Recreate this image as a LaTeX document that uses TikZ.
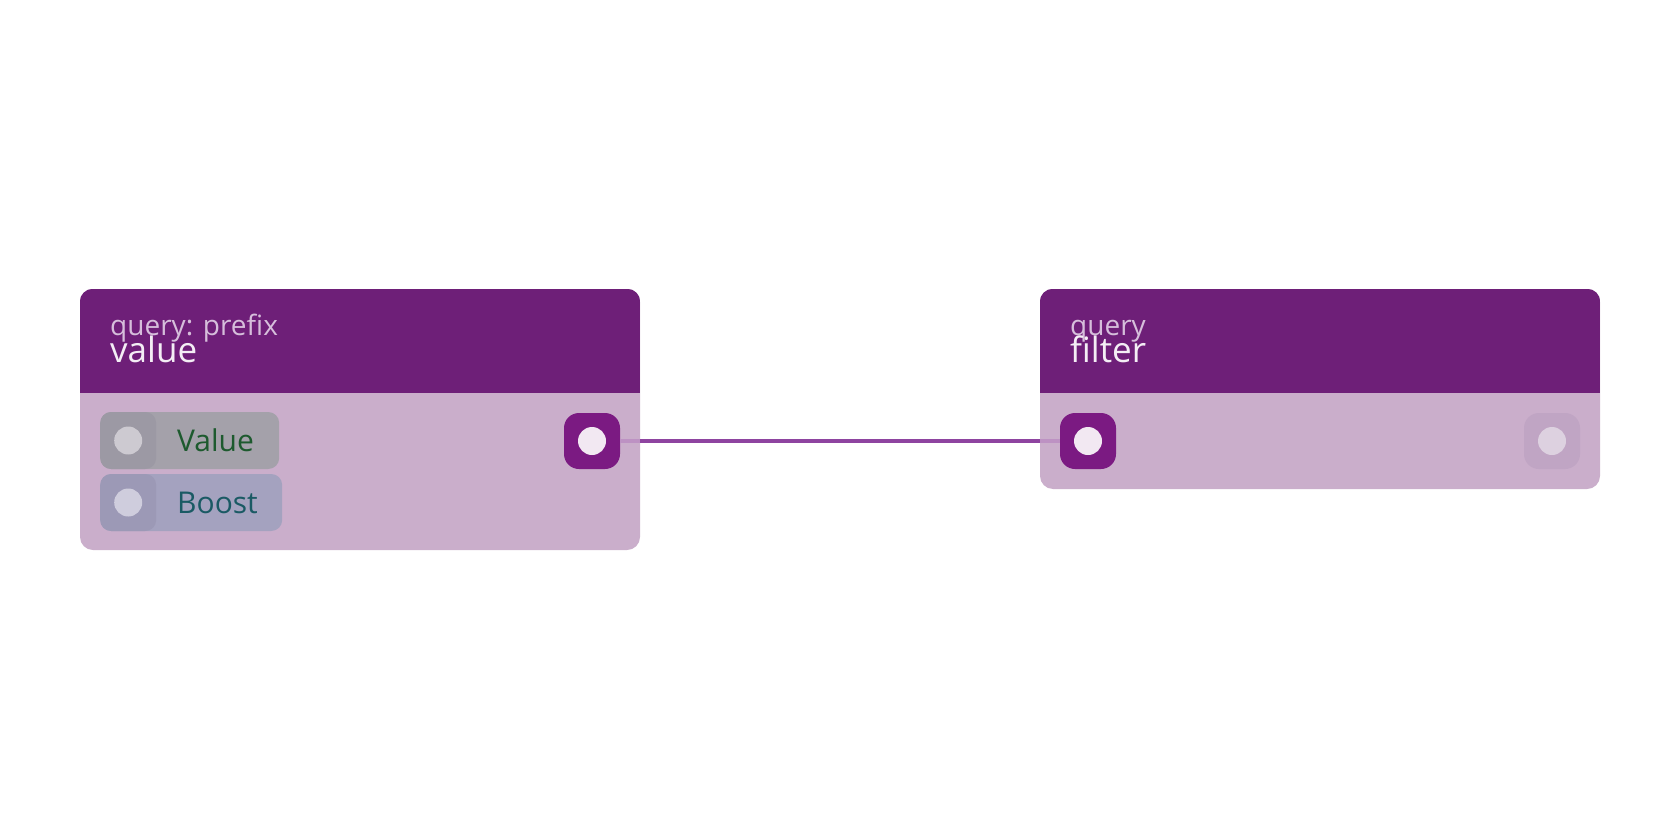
\documentclass[tikz,border=0pt]{standalone}
\usepackage{fontspec}
\setmainfont{Open Sans}
\definecolor{hdr}{HTML}{6E1F78}
\definecolor{bodyc}{HTML}{CAAECB}
\definecolor{portc}{HTML}{7B1A82}
\definecolor{portdot}{HTML}{F2E8F2}
\definecolor{linec}{HTML}{8E44A0}
\definecolor{lineinner}{HTML}{BD92C3}
\definecolor{subc}{HTML}{D6BEDB}
\definecolor{titlec}{HTML}{F4EEF5}
\definecolor{valbox}{HTML}{A4A1AA}
\definecolor{valsq}{HTML}{9C99A4}
\definecolor{valdot}{HTML}{CDCAD1}
\definecolor{valtext}{HTML}{1D5A2E}
\definecolor{boobox}{HTML}{A4A2BF}
\definecolor{boosq}{HTML}{9C99B6}
\definecolor{boodot}{HTML}{CFCDDD}
\definecolor{bootext}{HTML}{1A5A64}
\definecolor{offport}{HTML}{C0A5C4}
\definecolor{offdot}{HTML}{DDD1E0}
\tikzset{
  nodebody/.style={fill=bodyc, rounded corners=13pt, inner sep=0pt, minimum width=560pt},
  portbox/.style={fill=portc, rounded corners=15pt, inner sep=0pt, minimum size=56pt},
  offbox/.style={fill=offport, rounded corners=15pt, inner sep=0pt, minimum size=56pt},
  dot/.style={circle, fill=#1, inner sep=0pt, minimum size=28pt},
  pinbox/.style={rounded corners=11pt, inner sep=0pt, minimum height=57pt, anchor=west},
  pinsq/.style={rounded corners=11pt, inner sep=0pt, minimum width=56pt, minimum height=57pt, anchor=west},
  subtxt/.style={anchor=base west, inner sep=0pt, text=subc, font=\fontsize{28}{32}\selectfont},
  titletxt/.style={anchor=base west, inner sep=0pt, text=titlec, font=\fontsize{35}{40}\selectfont},
  pintxt/.style={anchor=west, inner sep=0pt, font=\fontsize{30}{34}\selectfont},
  conn/.style={draw=linec, line width=3.5pt},
  conninner/.style={draw=lineinner, line width=3.5pt},
}
\begin{document}
\begin{tikzpicture}[x=1pt, y=-1pt]
\useasboundingbox (0,0) rectangle (1680,840);
% left node
\node[nodebody, minimum height=261pt] (lbody) at (360,419.5) {};
\begin{scope}
  \clip[rounded corners=13pt] (lbody.north west) rectangle (lbody.south east);
  \fill[hdr] (lbody.north west) rectangle (640,393);
\end{scope}
\node[subtxt] (lsub) at (110,335) {query: prefix};
\node[titletxt] (ltitle) at (110,362) {value};
% right node
\node[nodebody, minimum height=200pt] (rbody) at (1320,389) {};
\begin{scope}
  \clip[rounded corners=13pt] (rbody.north west) rectangle (rbody.south east);
  \fill[hdr] (rbody.north west) rectangle (1600,393);
\end{scope}
\node[subtxt] (rsub) at (1070,335) {query};
\node[titletxt] (rtitle) at (1070,362) {filter};
% pins
\node[pinbox, fill=valbox, minimum width=179pt] (valpin) at (100,440.5) {};
\node[pinsq, fill=valsq] (valsqn) at (100,440.5) {};
\node[dot=valdot] (valdotn) at (valsqn.center) {};
\node[pintxt, text=valtext] (valtxt) at (177,440.5) {Value};
\node[pinbox, fill=boobox, minimum width=182pt] (boopin) at (100,502.5) {};
\node[pinsq, fill=boosq] (boosqn) at (100,502.5) {};
\node[dot=boodot] (boodotn) at (boosqn.center) {};
\node[pintxt, text=bootext] (bootxt) at (177,502.5) {Boost};
% ports
\node[portbox] (lout) at (592,441) {};
\node[portbox] (rin) at (1088,441) {};
\node[offbox] (rout) at (1552,441) {};
% connector
\draw[conn] (lbody.east |- lout) -- (rbody.west |- rin);
\draw[conninner] (lout.east) -- (lbody.east |- lout);
\draw[conninner] (rbody.west |- rin) -- (rin.west);
% dots on ports
\node[dot=portdot] (loutdot) at (lout.center) {};
\node[dot=portdot] (rindot) at (rin.center) {};
\node[dot=offdot] (routdot) at (rout.center) {};
\end{tikzpicture}
\end{document}
